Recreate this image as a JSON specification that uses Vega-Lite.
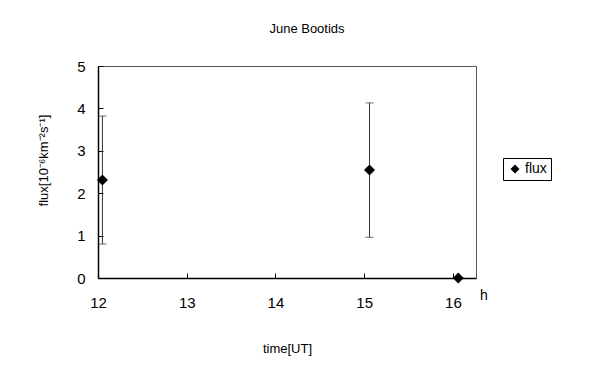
{
  "$schema": "https://vega.github.io/schema/vega-lite/v6.json",
  "autosize": "none",
  "padding": {"left": 98, "top": 66, "right": 129, "bottom": 96},
  "width": 378,
  "height": 212,
  "background": "white",
  "title": {"text": "June Bootids", "fontSize": 13, "fontWeight": "normal", "font": "Liberation Sans", "color": "black", "anchor": "middle", "dx": 20, "baseline": "middle", "offset": 17},
  "datasets": {
    "pts": [
      {"time": 12.05, "flux": 2.31, "lo": 0.80, "hi": 3.82, "series": "flux"},
      {"time": 15.06, "flux": 2.55, "lo": 0.96, "hi": 4.13, "series": "flux"},
      {"time": 16.06, "flux": 0, "lo": null, "hi": null, "series": "flux"}
    ],
    "unit": [{"time": 16.35, "flux": 0, "label": "h"}]
  },
  "config": {
    "font": "Liberation Sans",
    "view": {"stroke": "#555", "strokeWidth": 1},
    "axis": {"grid": false, "domainColor": "black", "tickColor": "black", "labelColor": "black", "titleColor": "black", "labelFont": "Liberation Sans", "titleFont": "Liberation Sans", "titleFontWeight": "normal"}
  },
  "layer": [
    {
      "data": {"name": "pts"},
      "transform": [{"filter": "datum.lo != null"}],
      "mark": {"type": "rule", "color": "#333", "strokeWidth": 1},
      "encoding": {
        "x": {"field": "time", "type": "quantitative", "scale": {"domain": [12, 16.26], "nice": false, "zero": false},
          "axis": {"values": [12, 13, 14, 15, 16], "format": "d", "tickSize": -5, "labelPadding": 29, "labelFontSize": 15, "labelFlush": false, "labelBaseline": "middle", "title": "time[UT]", "titleFontSize": 13, "titleY": 70, "titleBaseline": "middle", "domainWidth": 1.5}},
        "y": {"field": "lo", "type": "quantitative", "scale": {"domain": [0, 5], "nice": false},
          "axis": {"values": [0, 1, 2, 3, 4, 5], "format": "d", "tickSize": -5, "labelPadding": 18, "labelFontSize": 15, "labelFlush": false, "title": "flux[10⁻⁶km⁻²s⁻¹]", "titleFontSize": 13, "titleX": -55, "titleY": 94, "titleBaseline": "middle", "domainWidth": 1.5}},
        "y2": {"field": "hi"}
      }
    },
    {
      "data": {"name": "pts"},
      "transform": [{"filter": "datum.lo != null"}],
      "mark": {"type": "tick", "orient": "horizontal", "color": "#333", "size": 8, "thickness": 1},
      "encoding": {
        "x": {"field": "time", "type": "quantitative"},
        "y": {"field": "lo", "type": "quantitative"}
      }
    },
    {
      "data": {"name": "pts"},
      "transform": [{"filter": "datum.lo != null"}],
      "mark": {"type": "tick", "orient": "horizontal", "color": "#333", "size": 8, "thickness": 1},
      "encoding": {
        "x": {"field": "time", "type": "quantitative"},
        "y": {"field": "hi", "type": "quantitative"}
      }
    },
    {
      "data": {"name": "pts"},
      "mark": {"type": "point", "shape": "diamond", "filled": true, "size": 121, "opacity": 1},
      "encoding": {
        "x": {"field": "time", "type": "quantitative"},
        "y": {"field": "flux", "type": "quantitative"},
        "color": {"field": "series", "type": "nominal", "scale": {"range": ["black"]},
          "legend": {"title": null, "orient": "none", "legendX": 405, "legendY": 92, "strokeColor": "black", "padding": 4, "symbolType": "diamond", "symbolSize": 80, "labelFontSize": 14, "labelColor": "black", "labelFont": "Liberation Sans", "symbolOffset": 1, "labelOffset": 3}}
      }
    },
    {
      "data": {"name": "unit"},
      "mark": {"type": "text", "fontSize": 14, "color": "black", "dy": 18, "align": "center", "baseline": "middle"},
      "encoding": {
        "x": {"field": "time", "type": "quantitative"},
        "y": {"field": "flux", "type": "quantitative"},
        "text": {"field": "label"}
      }
    }
  ]
}
